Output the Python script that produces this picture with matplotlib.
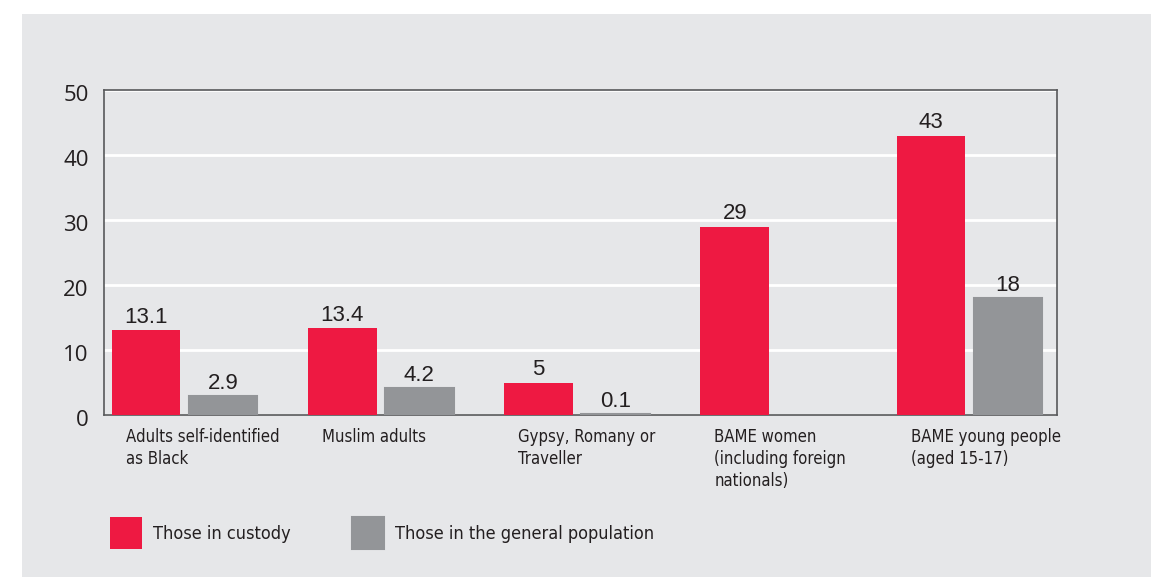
import numpy as np
import matplotlib
matplotlib.use('Agg')
import matplotlib.pyplot as plt
from matplotlib.patches import Rectangle
from matplotlib.transforms import ScaledTranslation

# data
categories = ['Adults self-identified\nas Black',
              'Muslim adults',
              'Gypsy, Romany or\nTraveller',
              'BAME women\n(including foreign\nnationals)',
              'BAME young people\n(aged 15-17)']
custody = [13.1, 13.4, 5, 29, 43]
general = [2.9, 4.2, 0.1, np.nan, 18]   # no general-population bar for BAME women
series_names = ['Those in custody', 'Those in the general population']
y_ticks = [0, 10, 20, 30, 40, 50]

RED = '#ee1942'
GREY = '#939598'
PANEL = '#e6e7e9'
TEXT = '#231f20'

W, H = 1151, 577
fig = plt.figure(figsize=(W / 100, H / 100), dpi=100, facecolor='white')
# grey background panel
fig.add_artist(Rectangle((22 / W, 0), 1, 1 - 14 / H, transform=fig.transFigure,
                         facecolor=PANEL, edgecolor='none', zorder=-10))

ax = fig.add_axes([104 / W, 1 - 415 / H, (1057 - 104) / W, (415 - 90) / H])
ax.set_facecolor(PANEL)

x = np.arange(len(categories))
bw = 0.35
off = 0.196
b1 = ax.bar(x - off, custody, bw, color=RED, label=series_names[0], zorder=3)
b2 = ax.bar(x + off, general, bw, color=GREY, edgecolor=GREY,
            linewidth=1.5, label=series_names[1], zorder=3)

lab1 = [f'{v:g}' for v in custody]
lab2 = ['' if np.isnan(v) else f'{v:g}' for v in general]
ax.bar_label(b1, labels=lab1, padding=1.5, fontsize=16, color=TEXT, family='Liberation Sans')
ax.bar_label(b2, labels=lab2, padding=1.5, fontsize=16, color=TEXT, family='Liberation Sans')

ax.set_ylim(0, 50)
ax.set_xlim(-0.41, 4.446)
ax.set_yticks(y_ticks)
ax.set_yticklabels([str(t) for t in y_ticks], fontsize=16, family='Open Sans', color=TEXT)
ax.tick_params(axis='y', length=0, pad=11)
shift = ScaledTranslation(0, -3 / 100, fig.dpi_scale_trans)
for lbl in ax.get_yticklabels():
    lbl.set_transform(lbl.get_transform() + shift)

ax.set_xticks(x - 0.3)
ax.set_xticklabels(categories, fontsize=12, family='DejaVu Sans', fontstretch='condensed',
                   color=TEXT, ha='left', va='top', linespacing=1.3)
ax.tick_params(axis='x', length=0, pad=9)

ax.grid(axis='y', color='white', linewidth=2, zorder=0)
ax.set_axisbelow(True)
for s in ax.spines.values():
    s.set_color('#58595b')
    s.set_linewidth(1.2)

leg = ax.legend(loc='center left', bbox_to_anchor=(110 / W, 1 - 533 / H),
                bbox_transform=fig.transFigure, ncol=2, frameon=False,
                prop={'family': 'DejaVu Sans', 'stretch': 'condensed', 'size': 13},
                handlelength=1.772, handleheight=2.35, handletextpad=0.61,
                columnspacing=3.38, borderpad=0, borderaxespad=0)
for t in leg.get_texts():
    t.set_color(TEXT)

fig.savefig('out.png', dpi=100, facecolor='white')
